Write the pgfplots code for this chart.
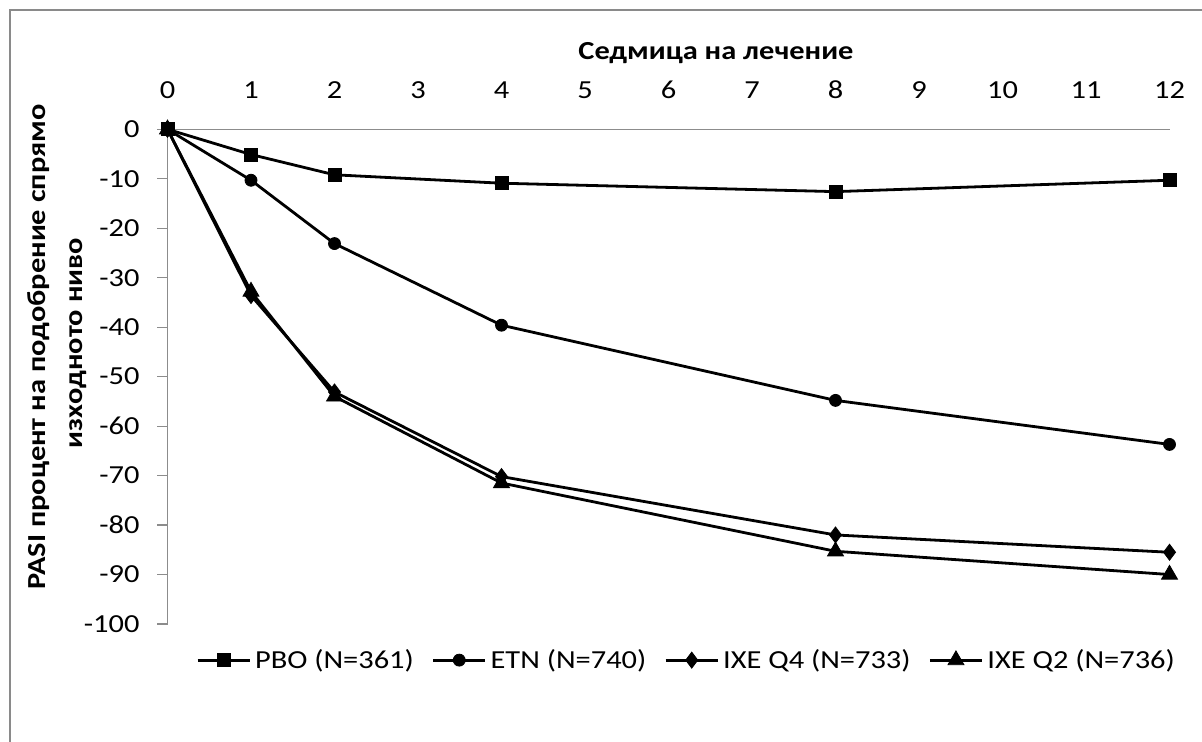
\documentclass[border=0pt]{standalone}
\usepackage{pgfplots}
\pgfplotsset{compat=1.18}
\usepackage{fontspec}
\setmainfont[FakeStretch=1.17]{Carlito}
\definecolor{bordergray}{HTML}{8A8A8A}
\definecolor{axgray}{HTML}{8C8C8C}
\begin{document}
\begin{tikzpicture}[x=1pt,y=1pt]
\path[use as bounding box] (0,0) rectangle (601,-371);
\draw[bordergray, line width=1pt] (602,-5) -- (5,-5) -- (5,-372);
\begin{axis}[
  at={(83.75pt,-64.65pt)}, anchor=north west,
  scale only axis, width=501pt, height=247.35pt,
  xmin=0, xmax=12, ymin=-100, ymax=0,
  axis x line*=top, axis y line*=left,
  axis line style={axgray, line width=0.6pt},
  xtick={0,1,...,12},
  xticklabels={0,1,2,3,4,5,6,7,8,9,10,11,12},
  xtick style={draw=none},
  ytick={-100,-90,...,0},
  yticklabels={-100,-90,-80,-70,-60,-50,-40,-30,-20,-10,0},
  ytick style={draw=axgray, line width=0.6pt},
  tick align=outside, major tick length=5pt,
  tick label style={font=\fontsize{13}{15}\selectfont},
  xticklabel style={yshift=7pt},
  yticklabel style={xshift=-5.5pt},
  every axis plot/.append style={black, line width=1.4pt},
  clip=false,
  legend columns=4,
  legend style={at={(0.519,-0.073)}, anchor=center, draw=none, fill=none,
    font=\fontsize{13}{15}\selectfont, inner sep=0pt,
    /tikz/every even column/.append style={column sep=7pt}},
  legend image code/.code={\draw[#1] (0pt,0pt) -- (26pt,0pt);
    \draw[#1, mark repeat=1] plot coordinates {(13pt,0pt)};},
]
\addplot[mark=square*, mark size=3.3pt, mark options={solid, line width=0.4pt}] coordinates {(0,0) (1,-5.1) (2,-9.2) (4,-10.9) (8,-12.6) (12,-10.3)};
\addlegendentry{PBO (N=361)}
\addplot[mark=*, mark size=3pt, mark options={solid, line width=0.4pt}] coordinates {(0,0) (1,-10.3) (2,-23.1) (4,-39.6) (8,-54.8) (12,-63.7)};
\addlegendentry{ETN (N=740)}
\addplot[mark=diamond*, mark size=4pt, mark options={solid, line width=0.4pt}] coordinates {(0,0) (1,-33.6) (2,-53.1) (4,-70.2) (8,-82.0) (12,-85.5)};
\addlegendentry{IXE Q4 (N=733)}
\addplot[mark=triangle*, mark size=4.6pt, mark options={solid, line width=0.4pt}] coordinates {(0,0) (1,-32.8) (2,-54.0) (4,-71.5) (8,-85.3) (12,-90.0)};
\addlegendentry{IXE Q2 (N=736)}
\end{axis}
\node[font=\bfseries\fontsize{13}{15}\selectfont] at (358,-26.5) {Седмица на лечение};
\node[rotate=90, font=\bfseries\fontsize{13}{15}\selectfont] at (19.5,-173.5) {PASI процент на подобрение спрямо};
\node[rotate=90, font=\bfseries\fontsize{13}{15}\selectfont] at (39,-171.5) {изходното ниво};
\end{tikzpicture}
\end{document}
